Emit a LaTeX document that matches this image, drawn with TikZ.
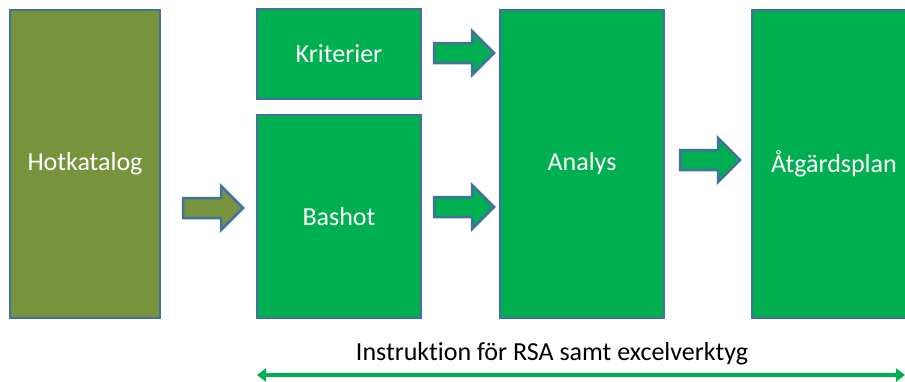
\documentclass[tikz,border=0pt]{standalone}
\usepackage{fontspec}
\setmainfont{Carlito}[Ligatures=NoCommon]
\usepackage{tikz}
\usetikzlibrary{arrows.meta,calc}

\definecolor{boxgreen}{HTML}{00B050}
\definecolor{boxolive}{HTML}{77933C}
\definecolor{boxedge}{HTML}{41719C}

\tikzset{
  block/.style={draw=boxedge, line width=2.5pt, fill=boxgreen, text=white,
    minimum width=164pt, font=\fontsize{26}{30}\selectfont},
  blockarrow/.style={draw=boxedge, line width=2.5pt, fill=boxgreen}
}

\newcommand{\blockarrow}[2][boxgreen]{%
  \draw[blockarrow, fill=#1] ($(#2)+(-30,-10)$) -- ++(38,0) -- ++(0,-12)
    -- ($(#2)+(30,0)$) -- ($(#2)+(8,22)$) -- ++(0,-12) -- ++(-38,0) -- cycle;}

\begin{document}
\begin{tikzpicture}[x=1pt, y=-1pt]
\useasboundingbox (0,0) rectangle (905,381);

\node[block, fill=boxolive, minimum width=150pt, minimum height=308pt] (hot) at (85,164) {Hotkatalog};
\node[block, minimum height=90pt] (krit) at (339,54) {Kriterier};
\node[block, minimum height=203pt] (bas) at (339,216.5) {Bashot};
\node[block, minimum height=308pt] (ana) at (582,164) {Analys};
\node[block, minimum height=308pt] (atg) at (834,164) {Åtgärdsplan};

\coordinate (a1) at (213,208);
\coordinate (a2) at (464,53);
\coordinate (a3) at (464,207);
\coordinate (a4) at (710,160);

\blockarrow[boxolive]{a1}
\blockarrow{a2}
\blockarrow{a3}
\blockarrow{a4}

\coordinate (instl) at (257,375);
\coordinate (instr) at (905,375);
\draw[boxgreen, line width=3.5pt, {Triangle[length=9pt,width=13pt]}-{Triangle[length=9pt,width=13pt]}] (instl) -- (instr);
\node[font=\fontsize{26}{30}\selectfont] (inst) at (552,354) {Instruktion för RSA samt excelverktyg};
\end{tikzpicture}
\end{document}
